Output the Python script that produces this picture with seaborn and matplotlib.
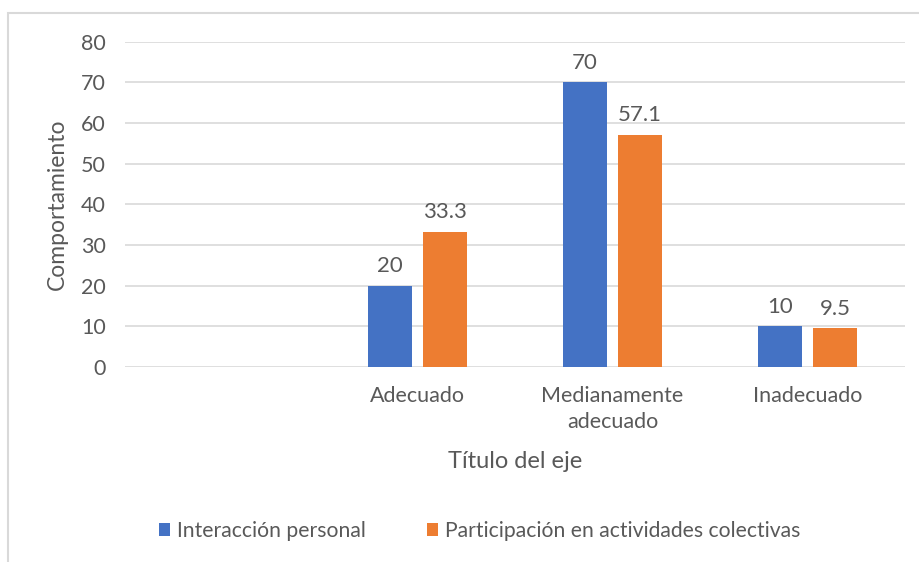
import pandas as pd
import matplotlib.pyplot as plt
import seaborn as sns
from matplotlib.patches import Rectangle

# Data
categorias = ["", "Adecuado", "Medianamente\nadecuado", "Inadecuado"]
series = ["Interacción personal", "Participación en actividades colectivas"]
interaccion = [20, 70, 10]
participacion = [33.3, 57.1, 9.5]
colores = ["#4472C4", "#ED7D31"]

df = pd.DataFrame({
    "categoria": categorias[1:] * 2,
    "serie": [series[0]] * 3 + [series[1]] * 3,
    "valor": interaccion + participacion,
})

sns.set_theme(style="white")
plt.rcParams['font.family'] = ['Lato', 'DejaVu Sans']
gris = "#595959"

fig = plt.figure(figsize=(9.2, 5.62), dpi=100)
ax = fig.add_axes([0.1359, 0.347, 0.8478, 0.579])

sns.barplot(data=df, x="categoria", y="valor", hue="serie", order=categorias,
            hue_order=series, palette=colores, width=0.564, gap=0.2,
            saturation=1, linewidth=0, ax=ax, legend=True)

# Data labels
for cont in ax.containers:
    ax.bar_label(cont, labels=[f"{v:g}" for v in cont.datavalues],
                 padding=7, fontsize=16, color=gris)

ax.set_ylim(0, 80)
ax.set_yticks(range(0, 81, 10))
ax.yaxis.grid(True, color="#d9d9d9", linewidth=1.2)
ax.set_axisbelow(True)
for s in ax.spines.values():
    s.set_visible(False)
ax.tick_params(axis="both", length=0, labelsize=15.5, colors=gris)
ax.tick_params(axis="y", pad=14)
ax.tick_params(axis="x", pad=14)
for t in ax.get_xticklabels():
    t.set_linespacing(1.35)

ax.set_xlabel("Título del eje", fontsize=17, color=gris, labelpad=14)
ax.set_ylabel("Comportamiento", fontsize=16.5, color=gris, labelpad=9)

ax.get_legend().remove()
handles, labels = ax.get_legend_handles_labels()
fig.legend(handles, labels, loc="center", bbox_to_anchor=(0.521, 0.055),
           ncol=2, frameon=False, fontsize=15.2, labelcolor=gris,
           handlelength=0.55, handleheight=0.55, handletextpad=0.3,
           columnspacing=2.9)

# Chart area border
fig.patches.append(Rectangle((8 / 920, -0.1), 1.2, 1 - 13 / 562 + 0.1,
                             transform=fig.transFigure, fill=False,
                             edgecolor="#d9d9d9", linewidth=1.5))

fig.savefig("out.png", dpi=100)
